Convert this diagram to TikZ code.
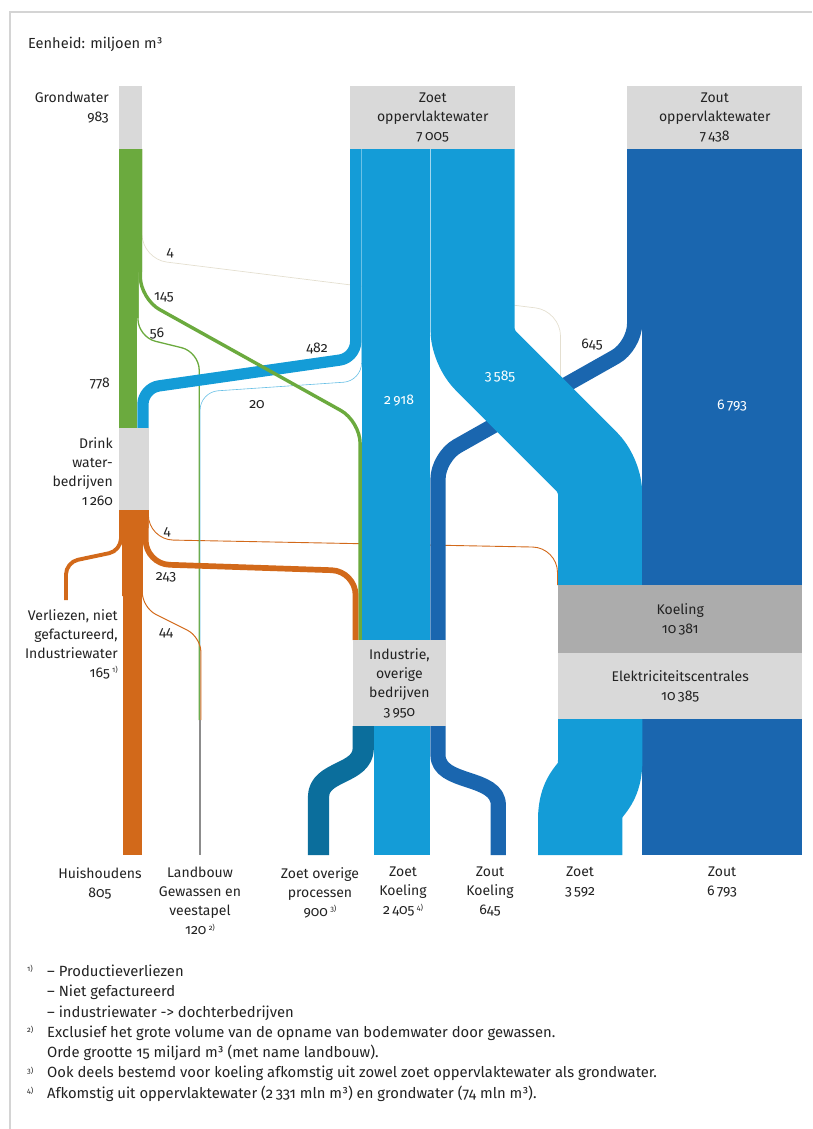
\documentclass[tikz,border=0pt]{standalone}
\usepackage{fontspec}
\setmainfont{Fira Sans}[Numbers=OldStyle]

\definecolor{grnw}{HTML}{6BAA3E}
\definecolor{zoetb}{HTML}{149CD7}
\definecolor{zoutb}{HTML}{1A66AF}
\definecolor{procb}{HTML}{0B6E9C}
\definecolor{drinko}{HTML}{D2691A}
\definecolor{boxg}{HTML}{D9D9D9}
\definecolor{koelg}{HTML}{ACACAC}
\definecolor{landg}{HTML}{8C8C8C}
\definecolor{faintc}{HTML}{E4DFD0}
\definecolor{framec}{HTML}{D4D4D4}
\definecolor{txt}{HTML}{222222}

\newcommand{\fnmark}[1]{\raisebox{.6ex}{\fontsize{7.5}{7.5}\selectfont #1)}}

\begin{document}
\begin{tikzpicture}
  [x=1pt,y=-1pt,
   every node/.style={font=\fontsize{14}{19}\selectfont, text=txt, inner sep=0pt},
   box/.style={fill=boxg, anchor=north west, align=center},
   sband/.style={line cap=butt, line join=round}]
  \useasboundingbox (0,0) rectangle (812,1129);
  \draw[framec, line width=1.5pt] (10,1129) -- (10,12) -- (812,12);
  \node[anchor=west, font=\fontsize{14.6}{19}\selectfont] (unit) at (28,44) {Eenheid: miljoen m³};

  % thin flows
  \draw[sband, faintc, line width=.7pt, rounded corners=25pt] (142,149) -- (142,259) -- (560.5,311) -- (560.5,585);
  \draw[sband, drinko, line width=.9pt, rounded corners=25pt] (148.3,510) -- (148.3,539.6) -- (557.5,547.5) -- (557.5,585);
  \draw[sband, grnw, line width=1.3pt, rounded corners=18pt] (137.95,149) -- (137.95,337) -- (199.2,352) -- (199.2,720);
  \draw[sband, zoetb!65, line width=.6pt, rounded corners=18pt] (361.55,149) -- (361.55,381) -- (200.1,392) -- (200.1,720);
  \draw[sband, drinko, line width=1pt, rounded corners=15pt] (142.3,510) -- (142.3,607.6) -- (200.9,637) -- (200.9,720);
  \draw[sband, landg, line width=2.8pt] (200,720) -- (200,855);

  % left flows
  \draw[sband, zoetb, line width=11.3pt, rounded corners=16pt] (355.65,149) -- (355.65,357.8) -- (142.95,388.2) -- (142.95,428);
  \draw[sband, grnw, line width=3.4pt, rounded corners=22pt] (140.3,149) -- (140.3,298.8) -- (360.1,421.2) -- (360.1,640);
  \draw[sband, drinko, line width=5.7pt, rounded corners=24pt] (145.65,510) -- (145.65,564) -- (355.55,571) -- (355.55,640);
  \draw[sband, drinko, line width=3.9pt, rounded corners=12pt] (120.95,510) -- (120.95,550.7) -- (66,562.3) -- (66,600);
  \draw[sband, drinko, line width=18.9pt] (132.35,510) -- (132.35,855);
  \draw[sband, grnw, line width=18.3pt] (128.15,149) -- (128.15,428);
  % close the seams where the bands leave their columns
  \fill[grnw] (119,149) rectangle (142,272) (119,149) rectangle (138.6,318);
  \fill[drinko] (119,510) rectangle (148.6,528) (122,510) rectangle (142.8,596);

  % surface water
  \draw[sband, zoutb, line width=15.2pt, rounded corners=22pt] (634.6,149) -- (634.6,346) -- (438,457) -- (438,640);
  \fill[zoetb] (361.8,149) rectangle (430.4,640);
  \draw[sband, zoetb, line width=84.2pt, rounded corners=18pt] (472.5,149) -- (472.5,347.5) -- (600.1,475.1) -- (600.1,585);
  \draw[white, opacity=.4, line width=.6pt] (430.4,149) -- (430.4,335);
  \fill[zoutb] (642.2,149) rectangle (801.8,585);

  % outflows
  \fill[zoutb] (642.2,719) rectangle (801.8,855);
  \draw[sband, zoetb, line width=84.4pt] (600.2,719) -- (600.2,760) .. controls (600.2,795) and (580.2,785) .. (580.2,820) -- (580.2,855);
  \fill[zoetb] (373.9,726) rectangle (430.4,855);
  \draw[sband, procb, line width=21.2pt] (363.3,726) -- (363.3,748) .. controls (363.3,775) and (318.5,770) .. (318.5,797) -- (318.5,855);
  \draw[sband, zoutb, line width=15.2pt] (438,726) -- (438,755) .. controls (438,785) and (498.3,775) .. (498.3,805) -- (498.3,855);

  % boxes
  \node[box, minimum width=23pt, minimum height=63pt] (grond) at (119,86) {};
  \node[box, minimum width=165pt, minimum height=63pt] (zoet) at (350,86) {Zoet\\oppervlaktewater\\7\,005};
  \node[box, minimum width=175pt, minimum height=63pt] (zout) at (627,86) {Zout\\oppervlaktewater\\7\,438};
  \node[box, minimum width=29.6pt, minimum height=82pt] (drink) at (119,428) {};
  \node[box, minimum width=92.9pt, minimum height=86pt] (ind) at (352.7,640) {Industrie,\\overige\\bedrijven\\3\,950};
  \node[box, fill=koelg, minimum width=244pt, minimum height=68pt] (koel) at (558,585) {Koeling\\10\,381};
  \node[box, minimum width=244pt, minimum height=66pt] (elek) at (558,653) {Elektriciteitscentrales\\10\,385};

  % labels
  \node[anchor=east, align=right] (grondl) at (109,108) {Grondwater\\983};
  \node[anchor=east, align=right] (drinkl) at (113,472) {Drink\\water-\\bedrijven\\1\,260};
  \node[anchor=east, align=right] (verl) at (118,644) {Verliezen, niet\\gefactureerd,\\Industriewater\\165\,\fnmark{1}};
  \node[anchor=east] (rest) at (110,384) {778};

  \node[anchor=north, align=center] (huis) at (100,867) {Huishoudens\\805};
  \node[anchor=north, align=center] (landb) at (200,867) {Landbouw\\Gewassen en\\veestapel\\120\,\fnmark{2}};
  \node[anchor=north, align=center] (overig) at (320,867) {Zoet overige\\processen\\900\,\fnmark{3}};
  \node[anchor=north, align=center] (zkoel) at (403,867) {Zoet\\Koeling\\2\,405\,\fnmark{4}};
  \node[anchor=north, align=center] (zokoel) at (490,867) {Zout\\Koeling\\645};
  \node[anchor=north, align=center] (outzoet) at (580,867) {Zoet\\3\,592};
  \node[anchor=north, align=center] (outzout) at (722,867) {Zout\\6\,793};

  \foreach \x/\y/\t [count=\i] in {170/253/4, 164/297/145, 157/334/56, 317/348/482, 257/405/20,
      167/532/4, 166/577/243, 166/633/44, 592/345/645}
    \node (f\i) at (\x,\y) {\t};
  \foreach \x/\y/\t [count=\i] in {399/401/2\,918, 500/377/3\,585, 732/406/6\,793}
    \node[text=white] (w\i) at (\x,\y) {\t};

  % footnotes
  \node[anchor=north west, font=\fontsize{14.8}{20.3}\selectfont] (notes) at (27,962) {%
    \begin{tabular}{@{}p{14pt}@{\hspace{6pt}}l@{}}
      \fnmark{1} & -- Productieverliezen\\
                 & -- Niet gefactureerd\\
                 & -- industriewater -> dochterbedrijven\\
      \fnmark{2} & Exclusief het grote volume van de opname van bodemwater door gewassen.\\
                 & Orde grootte 15 miljard m³ (met name landbouw).\\
      \fnmark{3} & Ook deels bestemd voor koeling afkomstig uit zowel zoet oppervlaktewater als grondwater.\\
      \fnmark{4} & Afkomstig uit oppervlaktewater (2\,331 mln m³) en grondwater (74 mln m³).
    \end{tabular}};
\end{tikzpicture}
\end{document}
